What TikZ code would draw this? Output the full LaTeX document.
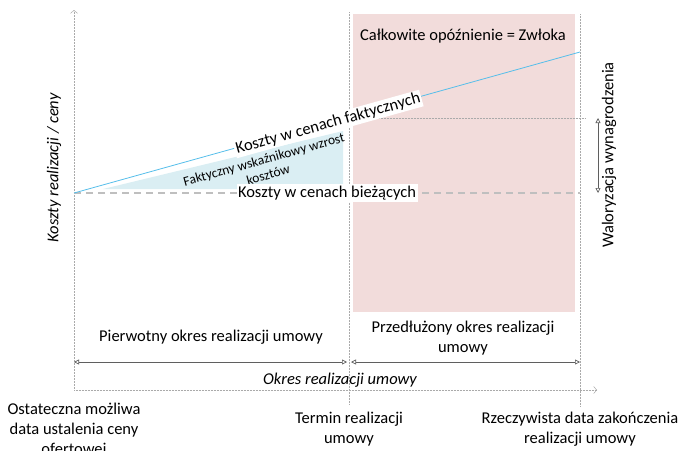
\documentclass[tikz,border=0pt]{standalone}
\usepackage{fontspec}
\setmainfont{Carlito}
\usetikzlibrary{arrows.meta}
\definecolor{delaypink}{RGB}{242,220,219}
\definecolor{risefill}{RGB}{218,238,243}
\definecolor{costblue}{RGB}{86,190,234}
\definecolor{axisgray}{RGB}{170,170,170}
\definecolor{basegray}{RGB}{191,191,191}
\definecolor{spangray}{RGB}{95,95,95}

\begin{document}
\begin{tikzpicture}[x=1pt, y=-1pt,
  axis/.style={draw=axisgray, line width=0.5pt, densely dotted},
  span/.style={draw=spangray, line width=0.7pt,
    {Triangle[open,length=5pt,width=5pt]}-{Triangle[open,length=5pt,width=5pt]}},
  txt/.style={font=\fontsize{16.5}{20}\selectfont, align=center, inner sep=2pt},
  itxt/.style={txt, font=\fontsize{16.5}{20}\selectfont\itshape},
  onwhite/.style={txt, fill=white, inner sep=1.5pt}]
  \useasboundingbox (0,0) rectangle (692,450);

  \coordinate (orig) at (74,390);
  \coordinate (ytop) at (74,10);
  \coordinate (xend) at (597,390);
  \coordinate (duetop) at (349,12);
  \coordinate (duebot) at (349,405);
  \coordinate (endtop) at (580,14);
  \coordinate (endbot) at (580,407);
  \coordinate (base) at (74,193);
  \coordinate (baseend) at (580,193);
  \coordinate (actend) at (580,52);
  \coordinate (refstart) at (349,118);
  \coordinate (refend) at (585,118);
  \coordinate (valtop) at (598,118);
  \coordinate (valbot) at (598,193);
  \coordinate (spanA) at (74,362);
  \coordinate (spanB) at (347,362);
  \coordinate (spanC) at (351,362);
  \coordinate (spanD) at (580,362);

  \fill[delaypink] (353,14) rectangle (575,312);
  \fill[risefill] (103,189) -- (343,131) -- (343,189) -- cycle;

  \draw[axis, -{Straight Barb[length=3pt,width=7pt]}] (orig) -- (ytop);
  \draw[axis, -{Straight Barb[length=3pt,width=7pt]}] (orig) -- (xend);
  \draw[axis] (duetop) -- (duebot);
  \draw[axis] (endtop) -- (endbot);
  \draw[axis] (refstart) -- (refend);

  \draw[basegray, line width=1.4pt, dash pattern=on 7pt off 5pt] (base) -- (baseend);
  \draw[costblue, line width=0.8pt] (base) -- (actend);

  \draw[span] (spanA) -- (spanB);
  \draw[span] (spanC) -- (spanD);
  \draw[span] (valtop) -- (valbot);

  \node[txt] (delay) at (463,36) {Całkowite opóźnienie = Zwłoka};
  \node[txt, font=\fontsize{13.5}{16}\selectfont, rotate=15.57] (rise) at (266,167)
    {Faktyczny wskaźnikowy wzrost\\kosztów};
  \node[onwhite, rotate=15.57] (actual) at (328,124) {Koszty w cenach faktycznych};
  \node[onwhite] (current) at (327,193) {Koszty w cenach bieżących};
  \node[itxt, rotate=90] (costaxis) at (54,168) {Koszty realizacji / ceny};
  \node[txt, rotate=90] (indexation) at (609,155) {Waloryzacja wynagrodzenia};
  \node[txt] (firstperiod) at (211,337) {Pierwotny okres realizacji umowy};
  \node[txt] (extperiod) at (463,338) {Przedłużony okres realizacji\\umowy};
  \node[itxt] (period) at (340,380) {Okres realizacji umowy};
  \node[txt] (pricedate) at (74,430) {Ostateczna możliwa\\data ustalenia ceny\\ofertowej};
  \node[txt] (duedate) at (349,429) {Termin realizacji\\umowy};
  \node[txt] (enddate) at (580,429) {Rzeczywista data zakończenia\\realizacji umowy};
\end{tikzpicture}
\end{document}
